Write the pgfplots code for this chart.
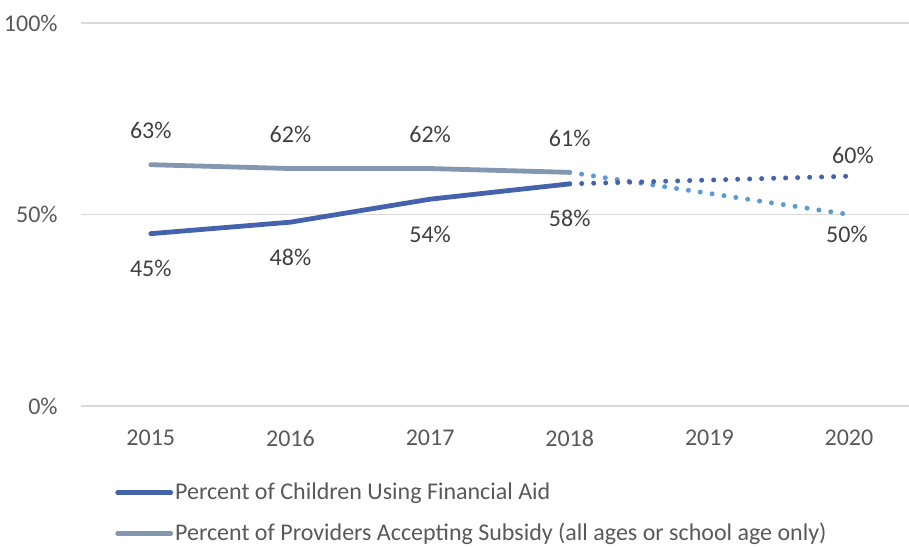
\documentclass[border=0pt]{standalone}
\usepackage{pgfplots}
\pgfplotsset{compat=1.18}
\usepackage{fontspec}
\setmainfont{Carlito}
\definecolor{cblue}{HTML}{4563AD}
\definecolor{cgray}{HTML}{8497B0}
\definecolor{clight}{HTML}{5B9BD5}
\definecolor{cgrid}{HTML}{D9D9D9}
\definecolor{ctick}{HTML}{595959}
\definecolor{clab}{HTML}{404040}
\begin{document}
\begin{tikzpicture}
\begin{axis}[
  scale only axis,
  width=414pt, height=191.5pt,
  xmin=-0.5, xmax=5.43,
  ymin=0, ymax=100,
  axis line style={draw=none},
  major tick length=0pt,
  ymajorgrids,
  grid style={cgrid, line width=0.75pt},
  xtick={0,1,2,3,4,5},
  xticklabels={2015,2016,2017,2018,2019,2020},
  ytick={0,50,100},
  yticklabels={0\%,50\%,100\%},
  /pgf/number format/assume math mode=true,
  font=\fontsize{12}{14.4}\selectfont,
  ticklabel style={text=ctick, font=\fontsize{12}{14.4}\selectfont},
  yticklabel style={anchor=east, inner sep=0pt, xshift=-11.5pt},
  xticklabel style={anchor=north, inner sep=0pt, yshift=-12pt},
  clip=false,
  legend style={at={(axis description cs:0.041,-0.28)}, anchor=west, draw=none, fill=none,
    inner sep=0pt, row sep=8.5pt, font=\fontsize{12}{14.4}\selectfont, text=ctick,
    nodes={inner sep=1pt}},
  legend cell align=left,
  legend image code/.code={\draw[#1, line width=2.4pt, line cap=round] (0pt,0pt) -- (26.5pt,0pt);},
  point meta=explicit symbolic,
  every node near coord/.style={text=clab, anchor=center, font=\fontsize{12}{14.4}\selectfont},
]
% dotted projections
\addplot[clight, line width=2.5pt, line cap=round, dash pattern=on 0pt off 6pt, forget plot]
  coordinates {(3,61) (5,50)};
\addplot[cblue, line width=2.5pt, line cap=round, dash pattern=on 0pt off 6pt, forget plot]
  coordinates {(3,58) (5,60)};
% solid lines
\addplot[cblue, line width=2.4pt, line cap=round, nodes near coords,
  every node near coord/.append style={yshift=-17.5pt}]
  coordinates {(0,45) [45\%] (1,48) [48\%] (2,54) [54\%] (3,58) [58\%]};
\addlegendentry{Percent of Children Using Financial Aid}
\addplot[cgray, line width=2.4pt, line cap=round, nodes near coords,
  every node near coord/.append style={yshift=17pt}]
  coordinates {(0,63) [63\%] (1,62) [62\%] (2,62) [62\%] (3,61) [61\%]};
\addlegendentry{Percent of Providers Accepting Subsidy (all ages or school age only)}
% 2020 labels
\addplot[draw=none, mark=none, forget plot, nodes near coords,
  every node near coord/.append style={yshift=10.5pt, xshift=2pt}]
  coordinates {(5,60) [60\%]};
\addplot[draw=none, mark=none, forget plot, nodes near coords,
  every node near coord/.append style={yshift=-10pt, xshift=-1pt}]
  coordinates {(5,50) [50\%]};
\end{axis}
\pgfresetboundingbox
\path[use as bounding box] (-40.5pt,-70pt) rectangle (414pt,203pt);
\end{tikzpicture}
\end{document}
